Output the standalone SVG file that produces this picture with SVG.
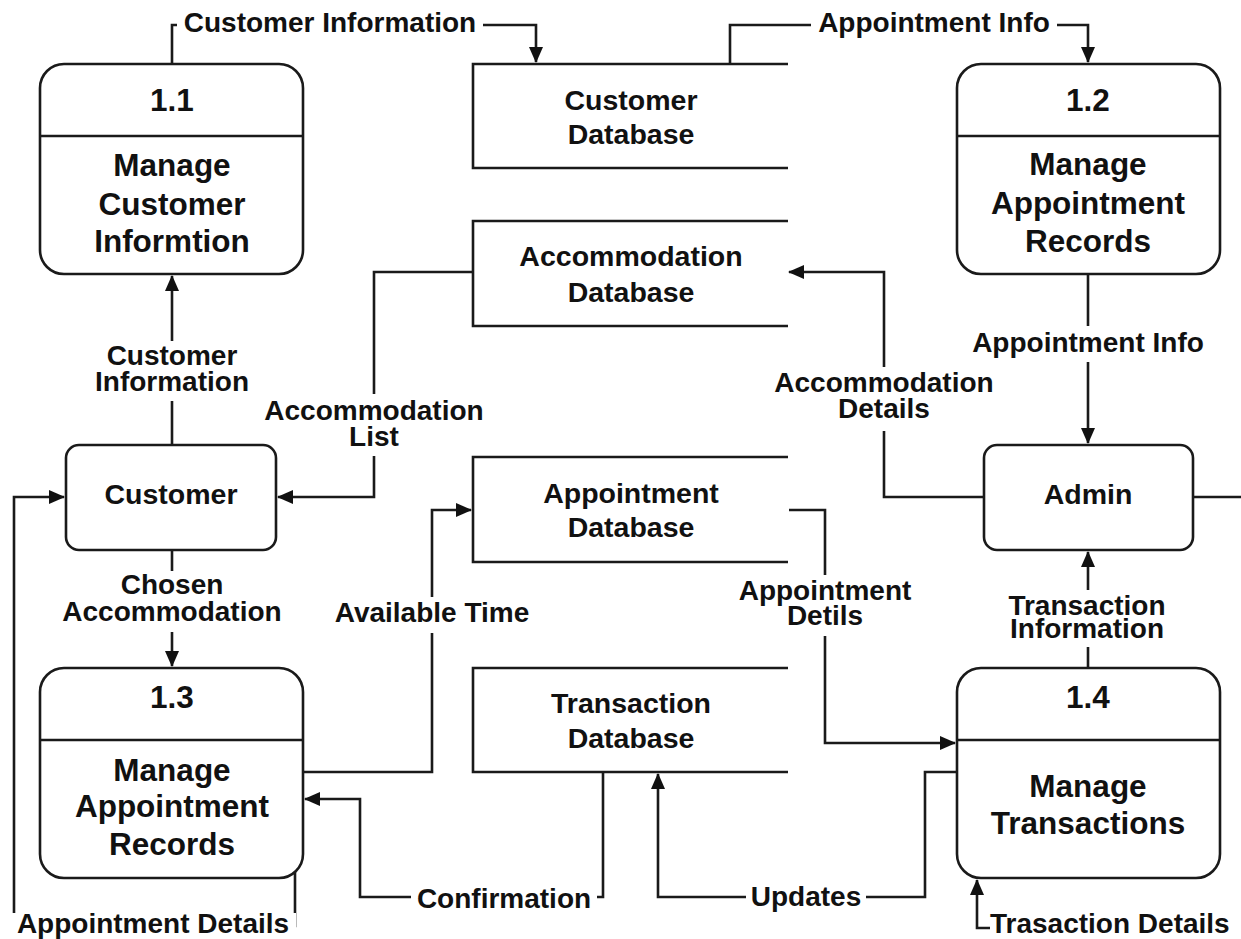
<svg xmlns="http://www.w3.org/2000/svg" width="1241" height="939" viewBox="0 0 1241 939">
<style>
text{font-family:"Liberation Sans",Arial,sans-serif;font-weight:bold;fill:#111;text-anchor:middle}
.p{font-size:31.5px}
.d{font-size:28.5px}
.l{font-size:28px}
.box{fill:#fff;stroke:#1a1a1a;stroke-width:2.6}
.ln{fill:none;stroke:#1a1a1a;stroke-width:2.6}
.bg{fill:#fff}
</style>
<defs>
<marker id="ah" markerUnits="userSpaceOnUse" markerWidth="16" markerHeight="14" refX="15" refY="7" orient="auto">
<path d="M0,0 L16,7 L0,14 Z" fill="#111"/>
</marker>
</defs>
<rect width="1241" height="939" fill="#fff"/>

<g id="connectors">
<path class="ln" d="M172,64 V25 H536 V62" marker-end="url(#ah)"/>
<path class="ln" d="M730,64 V25 H1088 V62" marker-end="url(#ah)"/>
<path class="ln" d="M1088,274 V443" marker-end="url(#ah)"/>
<path class="ln" d="M984,497 H884 V272 H789" marker-end="url(#ah)"/>
<path class="ln" d="M1193,497 H1241"/>
<path class="ln" d="M473,272 H374 V497 H278" marker-end="url(#ah)"/>
<path class="ln" d="M172,445 V276" marker-end="url(#ah)"/>
<path class="ln" d="M172,550 V666" marker-end="url(#ah)"/>
<path class="ln" d="M295,872 V926 H14 V497 H64" marker-end="url(#ah)"/>
<path class="ln" d="M303,772 H432 V510 H471" marker-end="url(#ah)"/>
<path class="ln" d="M603,772 V897 H360 V799 H305" marker-end="url(#ah)"/>
<path class="ln" d="M789,510 H825 V743 H955" marker-end="url(#ah)"/>
<path class="ln" d="M957,772 H925 V897 H658 V774" marker-end="url(#ah)"/>
<path class="ln" d="M1088,668 V552" marker-end="url(#ah)"/>
<path class="ln" d="M990,928 H977 V880" marker-end="url(#ah)"/>
</g>

<g id="labels">
<rect class="bg" x="177" y="8" width="306" height="30"/>
<text class="l" x="330" y="32">Customer Information</text>
<rect class="bg" x="811" y="8" width="246" height="30"/>
<text class="l" x="934" y="32">Appointment Info</text>
<rect class="bg" x="968" y="326" width="242" height="36"/>
<text class="l" x="1088" y="352">Appointment Info</text>
<rect class="bg" x="768" y="367" width="232" height="64"/>
<text class="l" x="884" y="392">Accommodation</text>
<text class="l" x="884" y="418">Details</text>
<rect class="bg" x="100" y="341" width="150" height="60"/>
<text class="l" x="172" y="365">Customer</text>
<text class="l" x="172" y="391">Information</text>
<rect class="bg" x="258" y="394" width="232" height="62"/>
<text class="l" x="374" y="420">Accommodation</text>
<text class="l" x="374" y="446">List</text>
<rect class="bg" x="55" y="571" width="234" height="61"/>
<text class="l" x="172" y="594">Chosen</text>
<text class="l" x="172" y="621">Accommodation</text>
<rect class="bg" x="330" y="597" width="205" height="36"/>
<text class="l" x="432" y="622">Available Time</text>
<rect class="bg" x="735" y="575" width="182" height="61"/>
<text class="l" x="825" y="600">Appointment</text>
<text class="l" x="825" y="625">Detils</text>
<rect class="bg" x="1004" y="590" width="166" height="57"/>
<text class="l" x="1087" y="615">Transaction</text>
<text class="l" x="1087" y="638">Information</text>
<rect class="bg" x="411" y="883" width="186" height="30"/>
<text class="l" x="504" y="908">Confirmation</text>
<rect class="bg" x="746" y="881" width="120" height="30"/>
<text class="l" x="806" y="906">Updates</text>
<rect class="bg" x="10" y="913" width="286" height="26"/>
<text class="l" x="153" y="933">Appointment Details</text>
<text class="l" x="990" y="933" style="text-anchor:start">Trasaction Details</text>
</g>

<g id="p11">
<rect class="box" x="40" y="64" width="263" height="210" rx="24"/>
<line class="ln" x1="40" y1="136" x2="303" y2="136"/>
<text class="p" x="172" y="111">1.1</text>
<text class="p" x="172" y="176">Manage</text>
<text class="p" x="172" y="215">Customer</text>
<text class="p" x="172" y="252">Informtion</text>
</g>

<g id="p12">
<rect class="box" x="957" y="64" width="263" height="210" rx="24"/>
<line class="ln" x1="957" y1="136" x2="1220" y2="136"/>
<text class="p" x="1088" y="111">1.2</text>
<text class="p" x="1088" y="175">Manage</text>
<text class="p" x="1088" y="214">Appointment</text>
<text class="p" x="1088" y="252">Records</text>
</g>

<g id="p13">
<rect class="box" x="40" y="668" width="263" height="210" rx="24"/>
<line class="ln" x1="40" y1="740" x2="303" y2="740"/>
<text class="p" x="172" y="708">1.3</text>
<text class="p" x="172" y="781">Manage</text>
<text class="p" x="172" y="817">Appointment</text>
<text class="p" x="172" y="855">Records</text>
</g>

<g id="p14">
<rect class="box" x="957" y="668" width="263" height="210" rx="24"/>
<line class="ln" x1="957" y1="740" x2="1220" y2="740"/>
<text class="p" x="1088" y="708">1.4</text>
<text class="p" x="1088" y="797">Manage</text>
<text class="p" x="1088" y="834">Transactions</text>
</g>

<g id="customer">
<rect class="box" x="66" y="445" width="210" height="105" rx="13"/>
<text class="d" x="171" y="504">Customer</text>
</g>

<g id="admin">
<rect class="box" x="984" y="445" width="209" height="105" rx="13"/>
<text class="d" x="1088" y="504">Admin</text>
</g>

<g id="customerdb">
<path class="ln" d="M788,64 H473 V168 H788"/>
<text class="d" x="631" y="110">Customer</text>
<text class="d" x="631" y="144">Database</text>
</g>

<g id="accommodationdb">
<path class="ln" d="M788,221 H473 V326 H788"/>
<text class="d" x="631" y="266">Accommodation</text>
<text class="d" x="631" y="302">Database</text>
</g>

<g id="appointmentdb">
<path class="ln" d="M788,457 H473 V562 H788"/>
<text class="d" x="631" y="503">Appointment</text>
<text class="d" x="631" y="537">Database</text>
</g>

<g id="transactiondb">
<path class="ln" d="M788,668 H473 V772 H788"/>
<text class="d" x="631" y="713">Transaction</text>
<text class="d" x="631" y="748">Database</text>
</g>
</svg>
